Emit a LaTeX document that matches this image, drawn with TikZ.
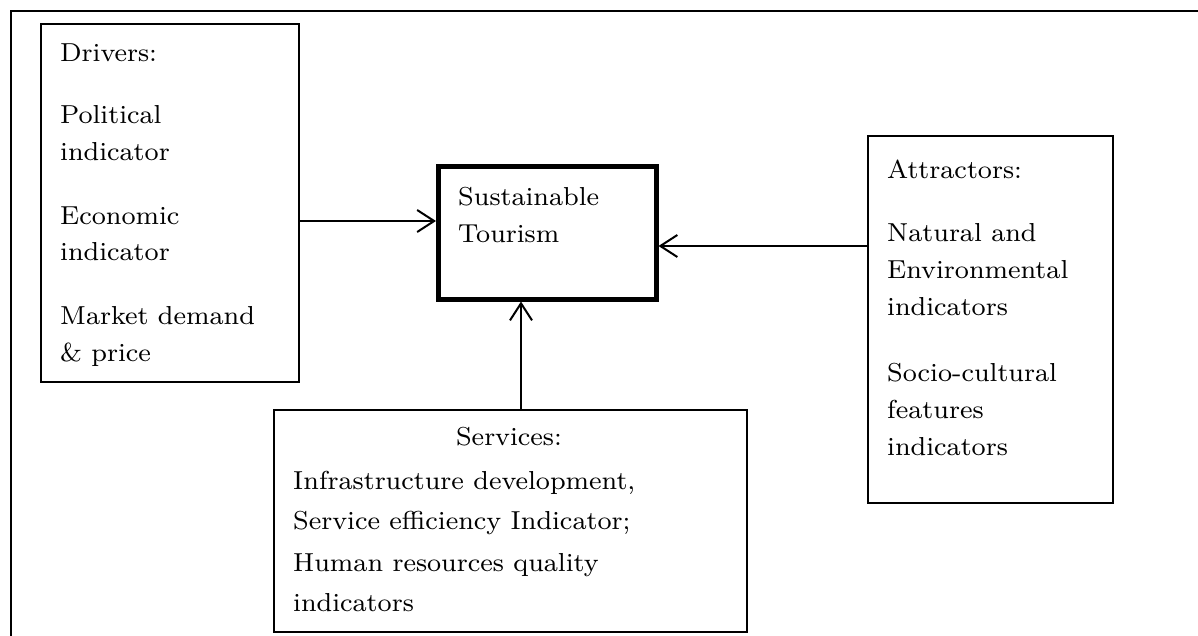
\documentclass[tikz,border=0pt]{standalone}
\usepackage{fontspec}
\setmainfont{lmroman8-regular.otf}[FakeStretch=1.02]
\usetikzlibrary{arrows.meta}
\tikzset{
  box/.style={draw, line width=2pt, inner sep=0pt, anchor=north west},
  mainbox/.style={box, line width=4.5pt},
  lbl/.style={anchor=base west, inner sep=0pt, font=\fontsize{26}{30}\selectfont},
  clbl/.style={lbl, anchor=base},
  arr/.style={line width=2pt, -{Straight Barb[length=17pt,width=22pt]}},
  frame/.style={line width=2pt}
}
\begin{document}
\begin{tikzpicture}[x=1pt,y=-1pt]
\useasboundingbox (0,0) rectangle (1198,635);
\clip (0,0) rectangle (1198,635);
% outer frame (cropped at right and bottom)
\draw[frame] (1210,11) -- (11,11) -- (11,650);
% boxes
\node[box, minimum width=258pt, minimum height=358pt] (drivers) at (40,23) {};
\node[mainbox, minimum width=218pt, minimum height=133pt] (sus) at (436,164) {};
\node[box, minimum width=245pt, minimum height=367pt] (attr) at (867,135) {};
\node[box, minimum width=473pt, minimum height=222pt] (serv) at (273,409) {};
% drivers text
\node[lbl] (d1) at (60,61) {Drivers:};
\node[lbl] (d2) at (60,123) {Political};
\node[lbl] (d3) at (60,160) {indicator};
\node[lbl] (d4) at (60,224) {Economic};
\node[lbl] (d5) at (60,260) {indicator};
\node[lbl] (d6) at (60,324) {Market demand};
\node[lbl] (d7) at (60,361) {\& price};
% sustainable text
\node[lbl] (s1) at (458,205) {Sustainable};
\node[lbl] (s2) at (458,242) {Tourism};
% attractors text
\node[lbl] (a1) at (887,178) {Attractors:};
\node[lbl] (a2) at (887,241) {Natural and};
\node[lbl] (a3) at (887,278) {Environmental};
\node[lbl] (a4) at (887,315) {indicators};
\node[lbl] (a5) at (887,381) {Socio-cultural};
\node[lbl] (a6) at (887,418) {features};
\node[lbl] (a7) at (887,455) {indicators};
% services text
\node[clbl] (v1) at (509,445) {Services:};
\node[lbl] (v2) at (293,489) {Infrastructure development,};
\node[lbl] (v3) at (293,529) {Service efficiency Indicator;};
\node[lbl] (v4) at (293,571) {Human resources quality};
\node[lbl] (v5) at (293,611) {indicators};
% connectors
\draw[arr] (drivers.east |- 0,221) -- (sus.west |- 0,221);
\draw[arr] (attr.west |- 0,246) -- (sus.east |- 0,246);
\draw[arr] (serv.north -| 521,0) -- (sus.south -| 521,0);
\end{tikzpicture}
\end{document}
